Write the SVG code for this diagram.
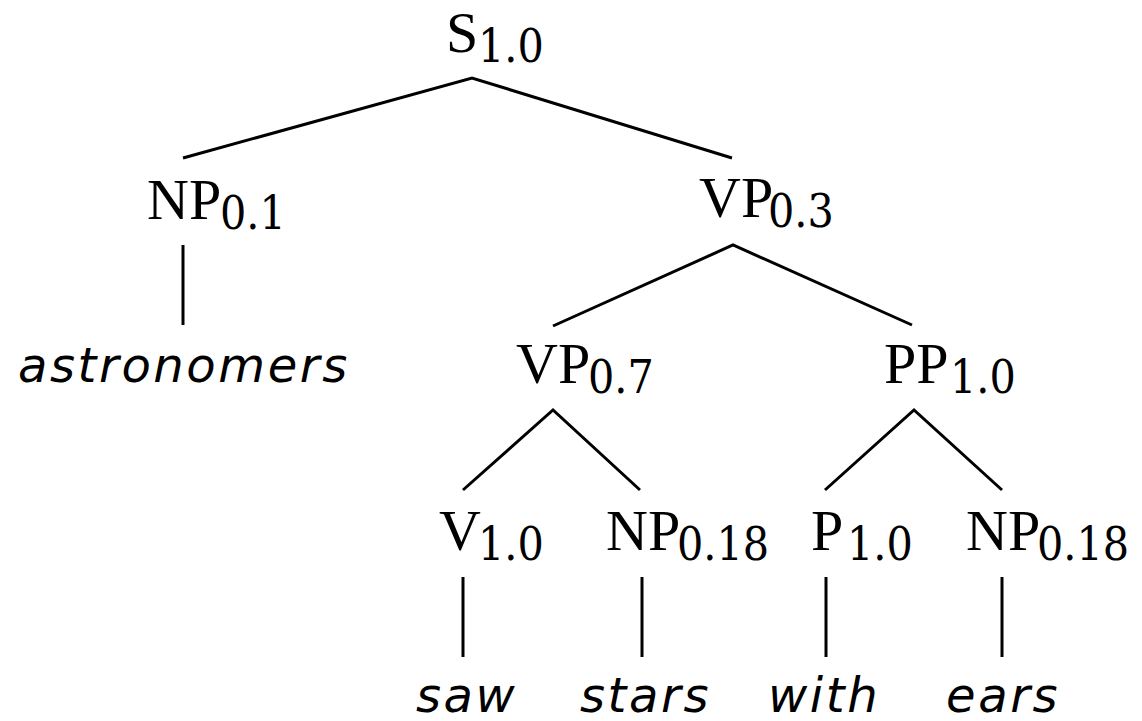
<svg xmlns="http://www.w3.org/2000/svg" width="1142" height="721" viewBox="0 0 1142 721">
<style>
.lab{font-family:"Liberation Serif",serif;font-size:58px;fill:#000}
.sub{font-family:"DejaVu Serif",serif;font-stretch:condensed;font-size:46px}
.w{font-family:"DejaVu Sans",sans-serif;font-style:italic;font-size:48px;letter-spacing:2.6px;fill:#000}
.e{stroke:#000;stroke-width:3;fill:none}
</style>
<rect width="1142" height="721" fill="#fff"/>
<g id="connectors">
<polyline class="e" points="183,158 472,78 732,158"/>
<line class="e" x1="183" y1="245" x2="183" y2="325"/>
<polyline class="e" points="553,326 733,245 912,325"/>
<polyline class="e" points="463,490 553,410 640,490"/>
<polyline class="e" points="825,490 914,410 1002,490"/>
<line class="e" x1="463" y1="577" x2="463" y2="657"/>
<line class="e" x1="642" y1="577" x2="642" y2="657"/>
<line class="e" x1="826" y1="577" x2="826" y2="657"/>
<line class="e" x1="1002" y1="577" x2="1002" y2="657"/>
</g>
<g id="S"><text class="lab" x="446" y="52">S<tspan class="sub" x="478" dy="10">1.0</tspan></text></g>
<g id="NP1"><text class="lab" x="147" y="219">NP<tspan class="sub" x="220" dy="10">0.1</tspan></text></g>
<g id="VP1"><text class="lab" x="699" y="217">VP<tspan class="sub" x="768" dy="10">0.3</tspan></text></g>
<g id="VP2"><text class="lab" x="516" y="383">VP<tspan class="sub" x="588" dy="10">0.7</tspan></text></g>
<g id="PP"><text class="lab" x="884" y="383">PP<tspan class="sub" x="950" dy="10">1.0</tspan></text></g>
<g id="V"><text class="lab" x="439" y="550">V<tspan class="sub" x="478" dy="10">1.0</tspan></text></g>
<g id="NP2"><text class="lab" x="606" y="550">NP<tspan class="sub" x="677" dy="10">0.18</tspan></text></g>
<g id="P"><text class="lab" x="811" y="550">P<tspan class="sub" x="847" dy="10">1.0</tspan></text></g>
<g id="NP3"><text class="lab" x="966" y="550">NP<tspan class="sub" x="1037" dy="10">0.18</tspan></text></g>
<g id="w-astronomers"><text class="w" x="18" y="382">astronomers</text></g>
<g id="w-saw"><text class="w" x="416" y="712">saw</text></g>
<g id="w-stars"><text class="w" x="580" y="712">stars</text></g>
<g id="w-with"><text class="w" x="768" y="712">with</text></g>
<g id="w-ears"><text class="w" x="946" y="712">ears</text></g>
</svg>
